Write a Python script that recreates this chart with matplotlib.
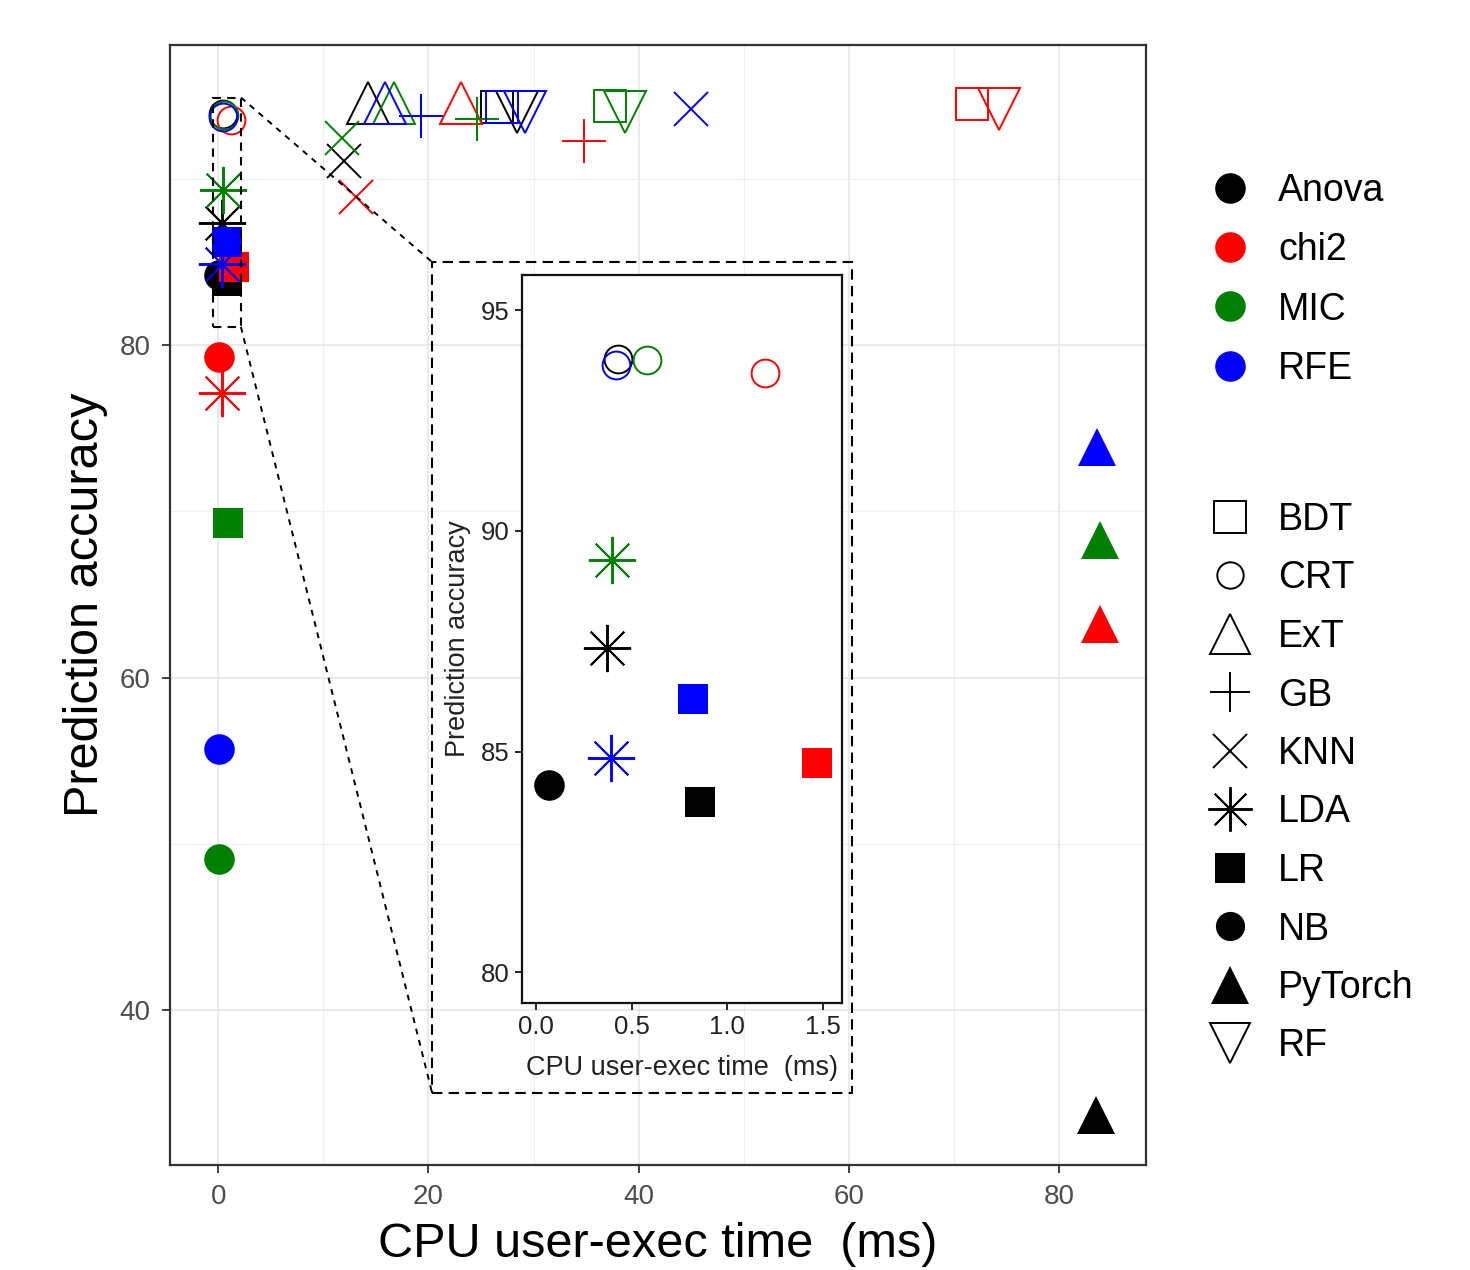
import numpy as np
import matplotlib
matplotlib.use("Agg")
import matplotlib.pyplot as plt
from matplotlib.lines import Line2D
from matplotlib.patches import Rectangle

plt.rcParams['font.family'] = ['Liberation Sans', 'DejaVu Sans']

# feature selectors (colour) and classifiers (shape)
selectors = ['Anova', 'chi2', 'MIC', 'RFE']
sel_colors = ['black', '#ff0000', '#008000', '#0000ff']
methods = ['BDT', 'CRT', 'ExT', 'GB', 'KNN', 'LDA', 'LR', 'NB', 'PyTorch', 'RF']

# CPU user-exec time (ms) and prediction accuracy, in the order of `methods`
anova_time = [26.5, 0.43, 14.2, 19.3, 11.95, 0.37, 0.86, 0.07, 83.5, 28.4]
anova_acc = [94.3, 93.9, 94.6, 93.8, 91.1, 87.35, 83.85, 84.25, 33.7, 94.0]
chi2_time = [71.7, 1.20, 23.1, 34.8, 13.1, 0.38, 1.47, 0.05, 83.9, 74.3]
chi2_acc = [94.5, 93.57, 94.6, 92.3, 88.9, 77.1, 84.73, 79.3, 63.2, 94.2]
mic_time = [37.25, 0.58, 16.7, 24.65, 11.8, 0.40, 0.9, 0.05, 83.9, 38.7]
mic_acc = [94.4, 93.87, 94.6, 93.6, 92.45, 89.35, 69.3, 49.1, 68.3, 94.0]
rfe_time = [27.0, 0.42, 15.9, 19.25, 45.0, 0.39, 0.82, 0.05, 83.6, 29.2]
rfe_acc = [94.3, 93.75, 94.6, 93.8, 94.2, 84.86, 86.2, 55.7, 73.9, 94.0]

times = [anova_time, chi2_time, mic_time, rfe_time]
accs = [anova_acc, chi2_acc, mic_acc, rfe_acc]

# marker, filled?, size for each method
shape = {
    'BDT': ('s', False, 23),
    'CRT': ('o', False, 20),
    'ExT': ('^', False, 30),
    'GB': ('+', False, 31),
    'KNN': ('x', False, 25),
    'LDA': ((8, 2, 0), False, 34),
    'LR': ('s', True, 22),
    'NB': ('o', True, 22),
    'PyTorch': ('^', True, 28),
    'RF': ('v', False, 30),
}


def draw_points(ax, xmax=None, ymin=None):
    for times_s, accs_s, col in zip(times, accs, sel_colors):
        for m, x, y in zip(methods, times_s, accs_s):
            if xmax is not None and (x > xmax or y < ymin):
                continue
            mk, filled, ms = shape[m]
            ax.plot([x], [y], linestyle='', marker=mk, markersize=ms,
                    markeredgecolor=col, markerfacecolor=col if filled else 'none',
                    markeredgewidth=0 if filled else 1.4, zorder=3)


fig = plt.figure(figsize=(14.7, 12.7), dpi=100)

# main panel
ax = fig.add_axes([170/1470, 1-1165/1270, 976/1470, 1120/1270])
ax.set_xlim(-4.6, 88.3)
ax.set_ylim(30.67, 98.06)
ax.set_xticks([0, 20, 40, 60, 80])
ax.set_xticks([10, 30, 50, 70], minor=True)
ax.set_yticks([40, 60, 80])
ax.set_yticks([50, 70, 90], minor=True)
ax.grid(True, which='major', color='#e6e6e6', linewidth=1.2)
ax.grid(True, which='minor', color='#efefef', linewidth=0.8)
ax.set_axisbelow(True)
ax.tick_params(which='minor', length=0)
ax.tick_params(which='major', length=6, width=1.3, color='#333333',
               labelsize=20, labelcolor='#4d4d4d', pad=8)
for sp in ax.spines.values():
    sp.set_color('#333333')
    sp.set_linewidth(1.6)
ax.set_xlabel('CPU user-exec time  (ms)', fontsize=35, va='center')
ax.xaxis.set_label_coords(0.5, -0.0714)
ax.set_ylabel('Prediction accuracy', fontsize=35, va='center')
ax.yaxis.set_label_coords(-0.087, 0.5)

draw_points(ax)

# zoom box and connectors
ax.add_patch(Rectangle((-0.55, 81.1), 2.7, 13.8, fill=False, ec='black',
                       lw=1.5, ls=(0, (4, 3)), zorder=4))
ax.add_patch(Rectangle((20.35, 35), 40, 50, fill=False, ec='black',
                       lw=1.5, ls=(0, (5, 3)), zorder=4))
ax.plot([2.15, 20.35], [94.9, 85], color='black', lw=1.4, ls=(0, (3, 3)), zorder=4)
ax.plot([2.15, 20.35], [81.1, 35], color='black', lw=1.4, ls=(0, (3, 3)), zorder=4)

# inset
ins = fig.add_axes([522/1470, 1-1003/1270, 320/1470, 728/1270])
ins.set_facecolor('white')
ins.set_xlim(-0.073, 1.60)
ins.set_ylim(79.3, 95.8)
ins.set_xticks([0.0, 0.5, 1.0, 1.5])
ins.set_xticklabels(['0.0', '0.5', '1.0', '1.5'])
ins.set_yticks([80, 85, 90, 95])
ins.tick_params(length=5, width=1.2, labelsize=18.5, labelcolor='#222222', pad=4)
for sp in ins.spines.values():
    sp.set_color('#111111')
    sp.set_linewidth(1.6)
ins.set_xlabel('CPU user-exec time  (ms)', fontsize=19.5, va='center', color='#222222')
ins.xaxis.set_label_coords(0.5, -0.0893)
ins.set_ylabel('Prediction accuracy', fontsize=19.5, va='center', color='#222222')
ins.yaxis.set_label_coords(-0.2, 0.5)
draw_points(ins, xmax=2, ymin=80)

# legends
sel_handles = [Line2D([], [], linestyle='', marker='o', markersize=21,
                      markerfacecolor=c, markeredgecolor=c) for c in sel_colors]
leg1 = fig.legend(sel_handles, selectors, loc='upper left',
                  bbox_to_anchor=(1211/1470, 1-173/1270), frameon=False,
                  fontsize=27, handlelength=1.0, handletextpad=0.79,
                  labelspacing=0.62, borderpad=0, borderaxespad=0)

leg_sizes = {'BDT': 23, 'CRT': 19, 'ExT': 29, 'GB': 29, 'KNN': 25, 'LDA': 32,
             'LR': 22, 'NB': 21, 'PyTorch': 27, 'RF': 29}
meth_handles = []
for m in methods:
    mk, filled, ms = shape[m]
    meth_handles.append(Line2D([], [], linestyle='', marker=mk, markersize=leg_sizes[m],
                               markeredgecolor='black',
                               markerfacecolor='black' if filled else 'none',
                               markeredgewidth=0 if filled else 1.4))
leg2 = fig.legend(meth_handles, methods, loc='upper left',
                  bbox_to_anchor=(1211/1470, 1-502/1270), frameon=False,
                  fontsize=27, handlelength=1.0, handletextpad=0.79,
                  labelspacing=0.6, borderpad=0, borderaxespad=0)

fig.savefig('out.png', dpi=100)
